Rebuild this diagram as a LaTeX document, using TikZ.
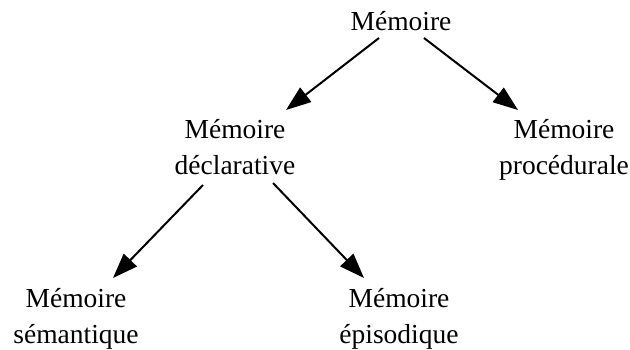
\documentclass[tikz,border=0pt]{standalone}
\usepackage{fontspec}
\setmainfont{Liberation Serif}
\usetikzlibrary{arrows.meta,calc}

\begin{document}
\begin{tikzpicture} [x=0.5pt, y=-0.5pt, font=\fontsize{13.75}{18}\selectfont]
\tikzstyle{every node}=[align=center, anchor=base, inner sep=0pt];
\tikzstyle{fleche}=[line width=1pt, -{Triangle[length=12.5pt, width=9pt]}];
\useasboundingbox (0,0) rectangle (630,349);
\node (m0) at (401, 30) {Mémoire};
\node (m1) at (235, 174) {Mémoire\\déclarative};
\node (m2) at (564, 174) {Mémoire\\procédurale};
\node (m3) at (76, 343) {Mémoire\\sémantique};
\node (m4) at (399, 343) {Mémoire\\épisodique};
\draw[fleche] ($(m0.base)+(-22,8)$) -- ($(m1.base)+(51,-64)$);
\draw[fleche] ($(m0.base)+(23,8)$) -- ($(m2.base)+(-46,-64)$);
\draw[fleche] ($(m1.base)+(-32,11)$) -- ($(m3.base)+(37,-65)$);
\draw[fleche] ($(m1.base)+(38,9)$) -- ($(m4.base)+(-35,-65)$);
\end{tikzpicture}
\end{document}
